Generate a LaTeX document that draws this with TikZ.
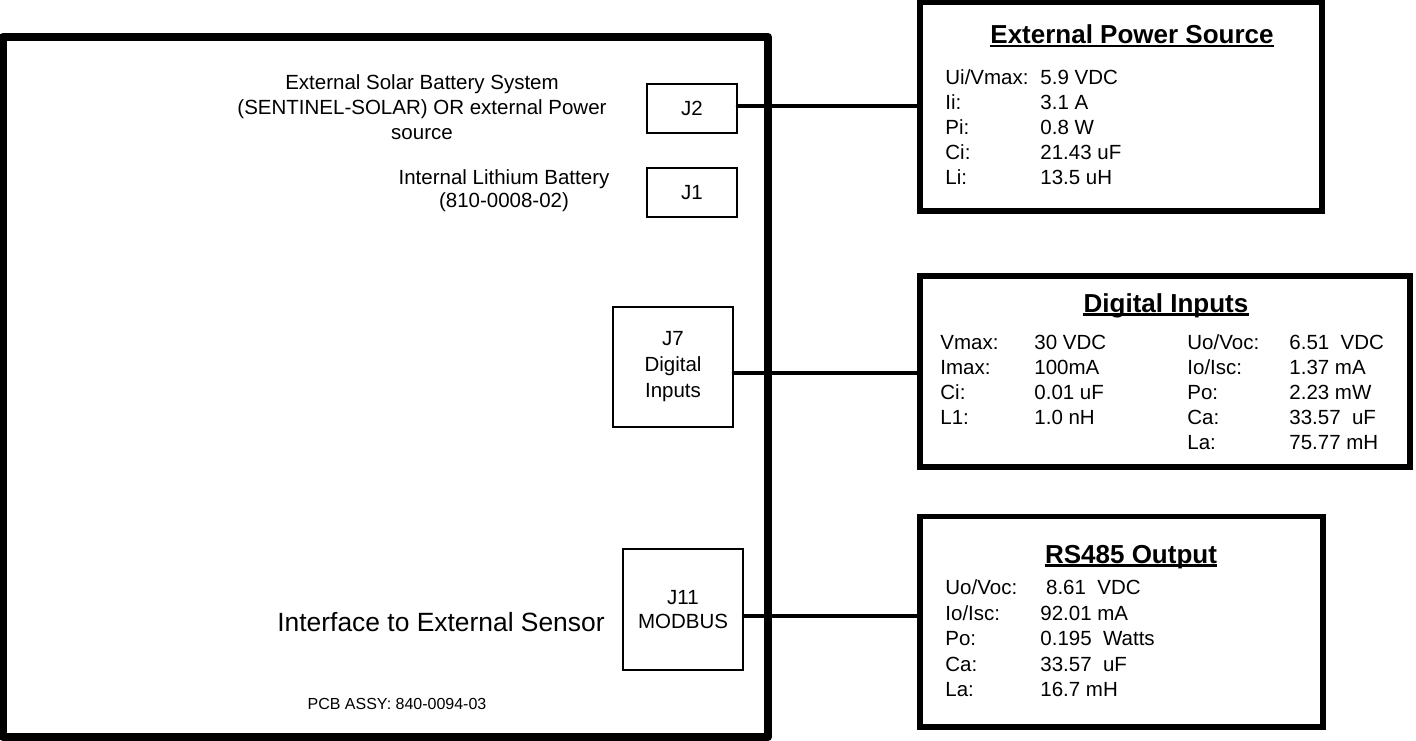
\documentclass[tikz,border=0pt]{standalone}
\usepackage{fontspec}
\setmainfont{Liberation Sans}
\tikzset{
  pcbframe/.style={draw, line width=4pt, line join=round, inner sep=0pt},
  infobox/.style={draw, line width=2.75pt, inner sep=0pt},
  jbox/.style={draw, line width=1pt, inner sep=0pt, align=center, font=\fontsize{10.25}{12.5}\selectfont},
  wire/.style={line width=2.25pt, line cap=round},
  txt/.style={inner sep=0pt, font=\fontsize{10.25}{12.5}\selectfont},
  lbl/.style={txt, anchor=base west},
  ttl/.style={inner sep=0pt, anchor=base, font=\bfseries\fontsize{13}{15}\selectfont},
  uline/.style={line width=1.2pt},
}
\begin{document}
\begin{tikzpicture}[x=0.5pt,y=-0.5pt]
\useasboundingbox (0,0) rectangle (1416,740);
% main PCB frame
\node[pcbframe, minimum width=382.5pt, minimum height=350pt] (pcb) at (385.5,387) {};
% connectors on the PCB
\node[jbox, minimum width=45pt, minimum height=24.5pt] (J2) at (692,108.5) {J2};
\node[jbox, minimum width=45pt, minimum height=24.5pt] (J1) at (692,192.5) {J1};
\node[jbox, minimum width=60pt, minimum height=60pt, font=\fontsize{10.25}{13}\selectfont] (J7) at (673,367) {J7\\Digital\\Inputs};
\node[jbox, minimum width=60pt, minimum height=60.5pt, font=\fontsize{10.25}{12}\selectfont] (J11) at (683,609.5) {J11\\MODBUS};
% descriptive texts
\node[txt, align=center] (solar) at (422,107) {External Solar Battery System\\(SENTINEL-SOLAR) OR external Power\\source};
\node[txt, align=center, font=\fontsize{10.25}{11.5}\selectfont] (lith) at (504,191) {Internal Lithium Battery\\(810-0008-02)};
\node[txt, font=\fontsize{13.2}{15}\selectfont] (iface) at (441,622) {Interface to External Sensor};
\node[txt, font=\fontsize{8}{10}\selectfont] (assy) at (397,704) {PCB ASSY: 840-0094-03};
% info boxes
\node[infobox, minimum width=201pt, minimum height=104.25pt] (ext) at (1121,106.75) {};
\node[infobox, minimum width=245pt, minimum height=95.5pt] (dig) at (1165,371.5) {};
\node[infobox, minimum width=201.5pt, minimum height=105.25pt] (rs) at (1121.5,621.75) {};
% titles
\node[ttl] (extT) at (1132,43.3) {External Power Source};
\draw[uline] ([yshift=-1.25pt]extT.base west) -- ([yshift=-1.25pt]extT.base east);
\node[ttl] (digT) at (1166,312) {Digital Inputs};
\draw[uline] ([yshift=-1.25pt]digT.base west) -- ([yshift=-1.25pt]digT.base east);
\node[ttl] (rsT) at (1131,563) {RS485 Output};
\draw[uline] ([yshift=-1.25pt]rsT.base west) -- ([yshift=-1.25pt]rsT.base east);
% External Power Source rows
\node[lbl] (e1l) at (945,84.3) {Ui/Vmax:};  \node[lbl] (e1v) at (1040,84.3) {5.9 VDC};
\node[lbl] (e2l) at (945,109.3) {Ii:};      \node[lbl] (e2v) at (1040,109.3) {3.1 A};
\node[lbl] (e3l) at (945,134.3) {Pi:};      \node[lbl] (e3v) at (1040,134.3) {0.8 W};
\node[lbl] (e4l) at (945,159.3) {Ci:};      \node[lbl] (e4v) at (1040,159.3) {21.43 uF};
\node[lbl] (e5l) at (945,184.3) {Li:};      \node[lbl] (e5v) at (1040,184.3) {13.5 uH};
% Digital Inputs rows
\node[lbl] (d1l) at (940,349.3) {Vmax:};   \node[lbl] (d1v) at (1034,349.3) {30 VDC};
\node[lbl] (d2l) at (940,374.3) {Imax:};   \node[lbl] (d2v) at (1034,374.3) {100mA};
\node[lbl] (d3l) at (940,399.3) {Ci:};     \node[lbl] (d3v) at (1034,399.3) {0.01 uF};
\node[lbl] (d4l) at (940,424.3) {L1:};     \node[lbl] (d4v) at (1034,424.3) {1.0 nH};
\node[lbl] (d5l) at (1187,349.3) {Uo/Voc:}; \node[lbl] (d5v) at (1289,349.3) {6.51\ \ VDC};
\node[lbl] (d6l) at (1187,374.3) {Io/Isc:}; \node[lbl] (d6v) at (1289,374.3) {1.37 mA};
\node[lbl] (d7l) at (1187,399.3) {Po:};     \node[lbl] (d7v) at (1289,399.3) {2.23 mW};
\node[lbl] (d8l) at (1187,424.3) {Ca:};     \node[lbl] (d8v) at (1289,424.3) {33.57\ \ uF};
\node[lbl] (d9l) at (1187,449.3) {La:};     \node[lbl] (d9v) at (1289,449.3) {75.77 mH};
% RS485 rows
\node[lbl] (r1l) at (945,594.3) {Uo/Voc:};  \node[lbl] (r1v) at (1040,594.3) {\ 8.61\ \ VDC};
\node[lbl] (r2l) at (945,620.3) {Io/Isc:};  \node[lbl] (r2v) at (1040,620.3) {92.01 mA};
\node[lbl] (r3l) at (945,645.3) {Po:};      \node[lbl] (r3v) at (1040,645.3) {0.195\ \ Watts};
\node[lbl] (r4l) at (945,671.3) {Ca:};      \node[lbl] (r4v) at (1040,671.3) {33.57\ \ uF};
\node[lbl] (r5l) at (945,696.3) {La:};      \node[lbl] (r5v) at (1040,696.3) {16.7 mH};
% wires
\coordinate (w2) at ([yshift=1.25pt]J2.east);
\coordinate (w7) at ([yshift=-3pt]J7.east);
\coordinate (w11) at ([yshift=-3.25pt]J11.east);
\draw[wire] (w2) -- (w2 -| ext.west);
\draw[wire] (w7) -- (w7 -| dig.west);
\draw[wire] (w11) -- (w11 -| rs.west);
\end{tikzpicture}
\end{document}
